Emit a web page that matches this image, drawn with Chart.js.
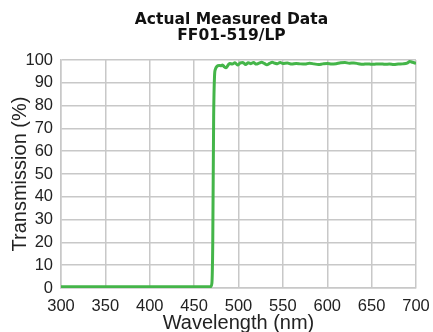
<!DOCTYPE html>
<html>
<head>
<meta charset="utf-8">
<script src="https://cdn.jsdelivr.net/npm/chart.js@4.4.0/dist/chart.umd.min.js"></script>
<style>
    html, body { margin: 0; padding: 0; background: #ffffff; }
    #box { width: 433px; height: 332px; }
</style>
</head>
<body>
<div id="box"><canvas id="spectrum_chart"></canvas></div>
<script>
// valeurs
const wavelengths = [300, 350, 400, 450, 466, 468, 469, 470, 471, 472, 473, 474, 476, 478, 480, 482, 484, 486, 488, 490,
    493, 496, 499, 502, 505, 508, 511, 514, 517, 520, 523, 526, 529, 532, 535, 538, 541, 544, 547, 550,
    555, 560, 565, 570, 575, 580, 585, 590, 595, 600, 605, 610, 615, 620, 625, 630, 635, 640, 645, 650,
    655, 660, 665, 670, 675, 680, 685, 690, 693, 696, 700];
const transmission = [0.5, 0.5, 0.5, 0.5, 0.5, 0.5, 0.7, 2, 20, 75, 93, 96, 97.3, 97.6, 97.5, 97.8, 97, 96.6, 97.6, 98.5,
    98.2, 98.8, 97.8, 98.7, 98.9, 98.0, 98.8, 98.4, 98.9, 98.2, 98.6, 99, 98.5, 97.9, 98.5, 99.0, 98.6, 98.4, 98.9, 98.5,
    98.7, 98.2, 98.5, 98.3, 98.2, 98.6, 98.3, 98.0, 98.3, 98.5, 98.2, 98.4, 98.8, 98.9, 98.6, 98.7, 98.4, 98.1, 98.3, 98.1,
    98.2, 98.3, 98.1, 98.2, 98.0, 98.2, 98.3, 98.6, 99.3, 99.0, 98.5];
const title_lines = ["Actual Measured Data", "FF01-519/LP"];
const x_title = "Wavelength (nm)";
const y_title = "Transmission (%)";

const grid_color = "#c8c8c8";
const line_color = "#44b549";
const tick_font = { family: "'Liberation Sans', sans-serif", size: 16.5 };
const title_font = { family: "'Liberation Sans', sans-serif", size: 20 };

let points = [];
wavelengths.forEach((wl, i) => {
    points.push({ x: wl, y: transmission[i] });
});

const ctx = document.getElementById('spectrum_chart').getContext('2d');
const chart = new Chart(ctx, {
    type: 'line',
    data: {
        datasets: [{
            label: "FF01-519/LP",
            data: points,
            borderColor: line_color,
            borderWidth: 3,
            pointRadius: 0,
            cubicInterpolationMode: 'monotone',
            fill: false
        }]
    },
    options: {
        responsive: true,
        maintainAspectRatio: false,
        animation: false,
        // padding droite negative pour decaler le titre vers la droite
        layout: { padding: { left: 0, right: -30, top: 0, bottom: 0 } },
        plugins: {
            legend: { display: false },
            tooltip: { enabled: false },
            title: {
                display: true,
                text: title_lines,
                color: "#111111",
                font: { family: "'DejaVu Sans', sans-serif", size: 15.5, weight: 'bold', lineHeight: 1.0 },
                padding: { top: 12.25, bottom: 16.75 }
            }
        },
        scales: {
            x: {
                type: 'linear',
                min: 300,
                max: 700,
                ticks: { stepSize: 50, color: "#222222", font: tick_font, padding: 9, maxRotation: 0, autoSkip: false },
                grid: { color: grid_color, lineWidth: 1.5, drawTicks: false },
                border: { color: grid_color, width: 1.5 },
                title: { display: true, text: x_title, color: "#222222", font: title_font, padding: { top: 0, bottom: -3 } },
                afterFit(scale) {
                    scale.height = 44;
                    scale.paddingLeft = 0;
                    scale.paddingRight = 17;
                }
            },
            y: {
                min: 0,
                max: 100,
                ticks: { stepSize: 10, color: "#222222", font: tick_font, padding: 8, autoSkip: false },
                grid: { color: grid_color, lineWidth: 1.5, drawTicks: false },
                border: { color: grid_color, width: 1.5 },
                title: { display: true, text: y_title, color: "#222222", font: title_font, padding: { top: 8, bottom: 0 } },
                afterFit(scale) {
                    scale.width = 61;
                    scale.paddingTop = 0;
                    scale.paddingBottom = 0;
                }
            }
        }
    }
});
</script>
</body>
</html>
